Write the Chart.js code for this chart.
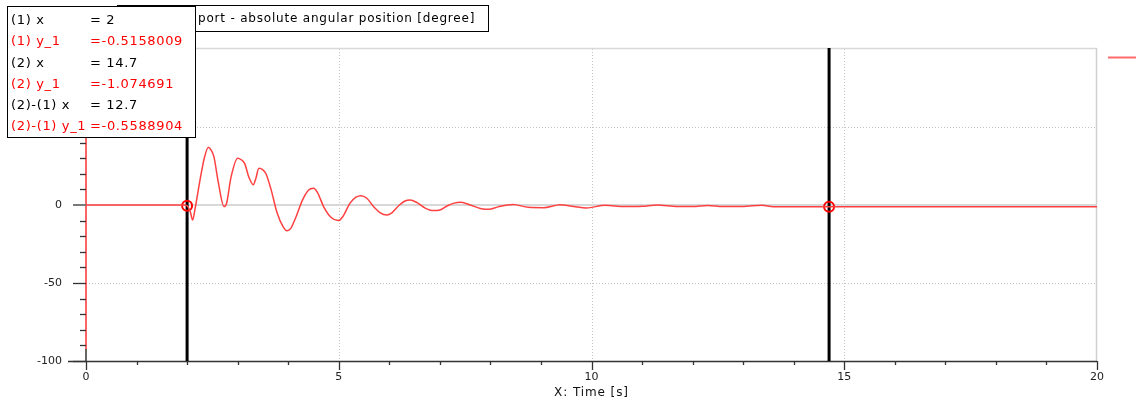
<!DOCTYPE html>
<html>
<head>
<meta charset="utf-8">
<title>Absolute angular position</title>
<script src="https://cdn.jsdelivr.net/npm/chart.js@4/dist/chart.umd.min.js"></script>
<style>
  html, body { margin: 0; padding: 0; background: #fff; overflow: hidden; }
  #wrap { width: 1136px; height: 405px; position: relative; }
</style>
</head>
<body>
<div id="wrap"><canvas id="c" width="1136" height="405"></canvas></div>
<script>
// Simulated response: time [s] and absolute angular position [degree]
const timeValues = [
  0, 1.95, 2.0, 2.06, 2.11, 2.16, 2.25, 2.34, 2.42, 2.48, 2.53, 2.62, 2.73, 2.78, 2.87,
  3.0, 3.07, 3.14, 3.22, 3.31, 3.36, 3.42, 3.5, 3.56, 3.66, 3.78, 3.9, 3.98, 4.05, 4.15,
  4.28, 4.4, 4.5, 4.58, 4.7, 4.85, 4.99, 5.08, 5.22, 5.34, 5.44, 5.55, 5.7, 5.82, 5.95,
  6.05, 6.2, 6.31, 6.41, 6.55, 6.7, 6.87, 7.0, 7.15, 7.28, 7.42, 7.6, 7.8, 7.97, 8.15,
  8.45, 8.75, 9.05, 9.38, 9.65, 9.9, 10.27, 10.66, 11.0, 11.3, 11.7, 12.0, 12.3, 12.6,
  13.0, 13.37, 13.6, 14.7, 20
];
const angleValues = [
  0, 0, -0.52, -4, -9.6, -2, 15, 30, 37, 35, 31, 14, -1, 1, 18,
  30, 29, 26.5, 18, 13, 17, 23.5, 22.5, 20, 10, -5, -14, -16.5, -15, -8,
  3, 9.5, 10.7, 8, -1, -8, -10, -7.5, 1, 5, 6, 4.5, -1.5, -5, -6.4,
  -5, 0, 2.6, 3.2, 1.5, -1.8, -3.6, -3.2, -0.5, 1.2, 1.7, 0, -2.2, -2.8, -1.2,
  0.4, -1.5, -1.7, 0.2, -1, -1.9, -0.2, -1, -0.8, 0, -1, -1, -0.3, -1,
  -0.9, -0.1, -1.05, -1.074691, -1.07
];

// Measurement cursors
const cursorTimes = [2, 14.7];
const cursorValues = [-0.5158009, -1.074691];
const cursorDelta = [12.7, -0.5588904];

// Axis ticks
const xTicks = [0, 5, 10, 15, 20];
const xMinorTicks = [1, 2, 3, 4, 6, 7, 8, 9, 11, 12, 13, 14, 16, 17, 18, 19];
const yTicks = [-100, -50, 0, 50, 100];
const yMinorTicks = [-90, -80, -70, -60, -40, -30, -20, -10, 10, 20, 30, 40, 60, 70, 80, 90];

const plotTitle = 'port - absolute angular position [degree]';
const xAxisTitle = 'X: Time [s]';
const readoutLabels = ['(1) x', '(1) y_1', '(2) x', '(2) y_1', '(2)-(1) x', '(2)-(1) y_1'];

const FONT = '"DejaVu Sans", Verdana, sans-serif';
const CURVE_RED = '#ff4040';

const curvePoints = timeValues.map((t, i) => ({ x: t, y: angleValues[i] }));
const cursorPoints = cursorTimes.map((t, i) => ({ x: t, y: cursorValues[i] }));

function line(ctx, x1, y1, x2, y2, color, width, dash) {
  ctx.save();
  ctx.strokeStyle = color;
  ctx.lineWidth = width;
  ctx.setLineDash(dash || []);
  ctx.beginPath();
  ctx.moveTo(x1, y1);
  ctx.lineTo(x2, y2);
  ctx.stroke();
  ctx.restore();
}

const decorations = {
  id: 'decorations',
  beforeDatasetsDraw(chart) {
    const { ctx, chartArea: a, scales: { x, y } } = chart;
    // dotted grid
    xTicks.filter(v => v > 0 && v < 20).forEach(v => {
      const px = Math.round(x.getPixelForValue(v)) + 0.5;
      line(ctx, px, a.top, px, a.bottom, '#c4c4c4', 1, [1, 2]);
    });
    yTicks.filter(v => v !== 0 && v > -100 && v < 100).forEach(v => {
      const py = Math.round(y.getPixelForValue(v)) + 0.5;
      line(ctx, a.left, py, a.right, py, '#c4c4c4', 1, [1, 2]);
    });
    // zero line and frame
    const y0 = y.getPixelForValue(0);
    line(ctx, a.left, y0, a.right, y0, '#d8d8d8', 2);
    line(ctx, a.left, a.top - 0.5, a.right, a.top - 0.5, '#d8d8d8', 1.5);
    line(ctx, a.right - 0.5, a.top - 1, a.right - 0.5, a.bottom, '#d0d0d0', 1.5);

    // x axis
    line(ctx, 68, a.bottom + 0.5, a.right, a.bottom + 0.5, '#333', 1.5);
    xTicks.forEach(v => {
      const px = Math.round(x.getPixelForValue(v)) + 0.5;
      line(ctx, px, a.bottom, px, a.bottom + 9, '#333', 1.3);
    });
    xMinorTicks.forEach(v => {
      const px = Math.round(x.getPixelForValue(v)) + 0.5;
      line(ctx, px, a.bottom, px, a.bottom + 4, '#333', 1.3);
    });

    // y axis
    line(ctx, a.left, a.top, a.left, a.bottom - 12, '#ff3030', 1.5);
    line(ctx, a.left, a.bottom - 12, a.left, a.bottom, '#333', 1.5);
    yTicks.forEach(v => {
      const py = Math.round(y.getPixelForValue(v)) + 0.5;
      if (v === 0) line(ctx, a.left - 13, py - 0.5, a.left, py - 0.5, '#7a7a7a', 2);
      else line(ctx, a.left - 13, py, a.left, py, '#333', 1.3);
    });
    yMinorTicks.forEach(v => {
      const py = Math.round(y.getPixelForValue(v)) + 0.5;
      line(ctx, a.left - 6, py, a.left, py, '#333', 1.3);
    });

    // cursor lines
    cursorTimes.forEach(t => {
      const px = x.getPixelForValue(t);
      line(ctx, px, a.top - 1, px, a.bottom, '#000', 3);
    });
  },
  afterDraw(chart) {
    const { ctx, chartArea: a } = chart;
    ctx.save();
    // axis title
    ctx.font = '12px ' + FONT;
    ctx.letterSpacing = '0.9px';
    ctx.fillStyle = '#111';
    ctx.textAlign = 'center';
    ctx.textBaseline = 'middle';
    ctx.fillText(xAxisTitle, (a.left + a.right) / 2, 393);

    // series key
    line(ctx, 1108, 57.5, 1136, 57.5, '#ff6a6a', 2);

    // plot title box
    ctx.fillStyle = '#fff';
    ctx.fillRect(117, 5, 372, 27);
    ctx.strokeStyle = '#000';
    ctx.lineWidth = 1;
    ctx.strokeRect(117.5, 5.5, 371, 26);
    ctx.fillStyle = '#000';
    ctx.textAlign = 'left';
    ctx.font = '12px ' + FONT;
    ctx.letterSpacing = '0.8px';
    ctx.fillText(plotTitle, 198, 19);

    // cursor readout
    ctx.fillStyle = '#fff';
    ctx.fillRect(7, 6, 189, 132);
    ctx.strokeRect(7.5, 6.5, 188, 131);
    const vals = [cursorTimes[0], cursorValues[0], cursorTimes[1], cursorValues[1], cursorDelta[0], cursorDelta[1]];
    ctx.font = '13px ' + FONT;
    ctx.letterSpacing = '0.65px';
    readoutLabels.forEach((lab, i) => {
      const yy = 21 + i * 21.1;
      const v = vals[i];
      ctx.fillStyle = i % 2 === 1 ? '#ff0000' : '#000';
      ctx.fillText(lab, 11, yy);
      ctx.fillText((v < 0 ? '=' : '= ') + String(v), 90, yy);
    });
    ctx.restore();
  }
};

new Chart(document.getElementById('c'), {
  type: 'scatter',
  data: {
    datasets: [
      {
        data: curvePoints,
        showLine: true,
        borderColor: CURVE_RED,
        borderWidth: 1.5,
        pointRadius: 0,
        cubicInterpolationMode: 'monotone',
        fill: false
      },
      {
        data: cursorPoints,
        showLine: false,
        pointStyle: 'circle',
        pointRadius: 5,
        pointBorderWidth: 2,
        pointBorderColor: '#ff0000',
        pointBackgroundColor: 'rgba(0,0,0,0)'
      }
    ]
  },
  options: {
    responsive: false,
    animation: false,
    devicePixelRatio: 1,
    layout: { padding: { top: 49, right: 39, left: 0, bottom: 0 } },
    plugins: { legend: { display: false }, tooltip: { enabled: false } },
    scales: {
      x: {
        type: 'linear',
        min: 0,
        max: 20,
        afterBuildTicks: s => { s.ticks = xTicks.map(v => ({ value: v })); },
        afterFit: s => { s.height = 44; },
        grid: { display: false, drawTicks: false },
        border: { display: false },
        ticks: {
          autoSkip: false,
          maxRotation: 0,
          padding: 10,
          color: '#222',
          font: { family: FONT, size: 11 }
        }
      },
      y: {
        type: 'linear',
        min: -100,
        max: 100,
        afterBuildTicks: s => { s.ticks = yTicks.map(v => ({ value: v })); },
        afterFit: s => { s.width = 86; },
        grid: { display: false, drawTicks: false },
        border: { display: false },
        ticks: {
          autoSkip: false,
          padding: 24,
          color: '#222',
          font: { family: FONT, size: 11 }
        }
      }
    }
  },
  plugins: [decorations]
});
</script>
</body>
</html>
